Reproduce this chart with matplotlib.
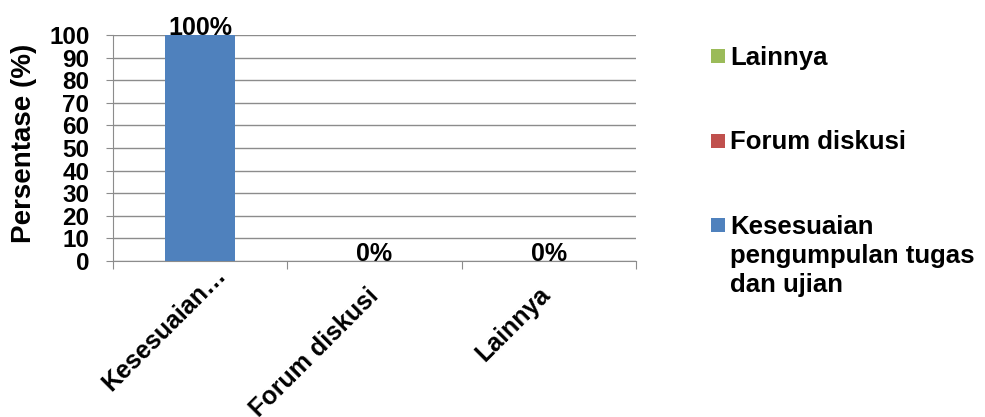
import numpy as np
import matplotlib.pyplot as plt
import matplotlib.transforms as mtransforms
from matplotlib.lines import Line2D

plt.rcParams['font.family'] = ['Liberation Sans', 'DejaVu Sans']
plt.rcParams['font.weight'] = 'bold'

# data
categories = ["Kesesuaian pengumpulan tugas dan ujian", "Forum diskusi", "Lainnya"]
tick_labels = ["Kesesuaian…", "Forum diskusi", "Lainnya"]
legend_labels = ["Kesesuaian\npengumpulan tugas\ndan ujian", "Forum diskusi", "Lainnya"]
values = [100, 0, 0]
colors = ["#4F81BD", "#C0504D", "#9BBB59"]

fig = plt.figure(figsize=(9.85, 4.17), dpi=100)
ax = fig.add_axes([113 / 985, 1 - 261 / 417, 523 / 985, 226 / 417])

x = np.arange(len(categories))
bars = ax.bar(x, values, width=0.4, color=colors, zorder=3)

for xi, v in zip(x, values):
    ax.text(xi, v, f"{v}%", ha='center', va='baseline', fontsize=18, fontweight='bold')

ax.set_xlim(-0.5, len(categories) - 0.5)
ax.set_ylim(0, 100)
ax.set_yticks(np.arange(0, 101, 10))
ax.yaxis.grid(True, color='#8c8c8c', lw=1, zorder=0)

ax.set_xticks(np.arange(-0.5, len(categories)), labels=[])
ax.set_xticks(x, minor=True)
ax.set_xticklabels(tick_labels, minor=True, rotation=45, ha='right', va='center',
                   rotation_mode='anchor', fontsize=18, fontweight='bold')
ax.tick_params(axis='x', which='minor', length=0, pad=14)
ax.tick_params(axis='x', which='major', length=6, color='#8c8c8c')
ax.tick_params(axis='y', length=5, color='#8c8c8c', labelsize=17.5, pad=12)

# small per-label nudges, like the excel layout
nudges = [(22, 9), (0, -12), (-2, -10)]
for lbl, (dx, dy) in zip(ax.get_xticklabels(minor=True), nudges):
    off = mtransforms.ScaledTranslation(dx / 100, dy / 100, fig.dpi_scale_trans)
    lbl.set_transform(lbl.get_transform() + off)

for s in ['top', 'right']:
    ax.spines[s].set_visible(False)
for s in ['left', 'bottom']:
    ax.spines[s].set_color('#8c8c8c')

ax.set_ylabel("Persentase (%)", fontsize=20, fontweight='bold')
ax.yaxis.set_label_coords(-0.145, 0.52)

handles = [Line2D([], [], marker='s', linestyle='none', markersize=9.5,
                  markeredgewidth=0, color=c) for c in colors]
leg = fig.legend(handles[::-1], legend_labels[::-1], loc='upper left',
                 bbox_to_anchor=(711 / 985, 1 - 46 / 417), frameon=False,
                 prop={'size': 18.5, 'weight': 'bold'}, handlelength=0.55,
                 handleheight=1.0, handletextpad=0.2, labelspacing=2.35,
                 borderpad=0, borderaxespad=0, numpoints=1)
for t in leg.get_texts():
    t.set_linespacing(1.28)
# put the square next to the first line of a wrapped label
for col in leg._legend_handle_box.get_children():
    for row in col.get_children():
        row.align = 'top'

fig.savefig("out.png", dpi=100)
